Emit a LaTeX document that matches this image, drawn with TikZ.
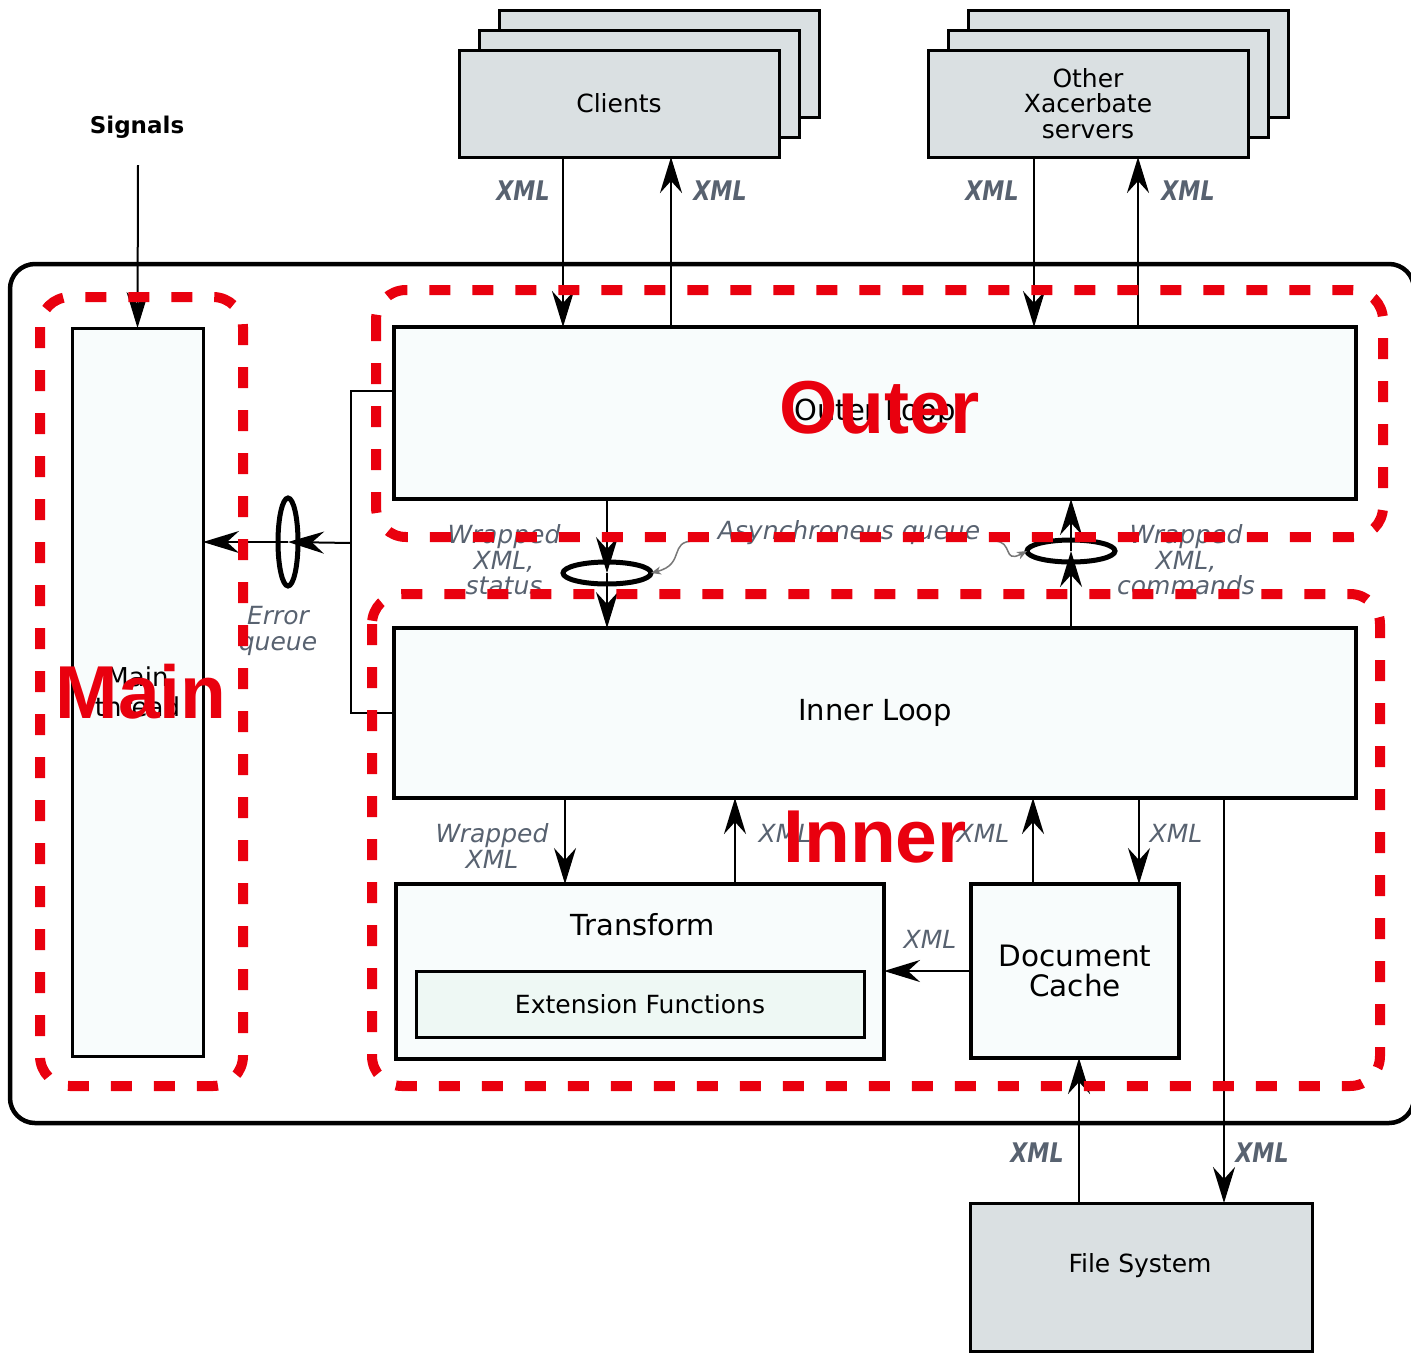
\documentclass[tikz,border=0pt]{standalone}
\usepackage{fontspec}
\setmainfont{DejaVu Sans}[BoldFont={DejaVu Sans Bold},ItalicFont={DejaVu Sans Oblique},BoldItalicFont={DejaVu Sans Bold Oblique}]
\newfontfamily\bigfont{Liberation Sans}[BoldFont={Liberation Sans Bold}]
\usetikzlibrary{arrows.meta,shapes.geometric}
\definecolor{boxgray}{RGB}{218,224,226}
\definecolor{boxlight}{RGB}{248,252,252}
\definecolor{extfill}{RGB}{238,248,244}
\definecolor{lblgray}{RGB}{88,98,112}
\definecolor{bigred}{RGB}{233,0,14}
\definecolor{wiggray}{RGB}{120,120,120}
\newcommand{\xmlb}{\scalebox{0.82}[1]{XML}}
\tikzset{
  base/.style={draw=black, inner sep=0pt, outer sep=0pt, align=center, font=\fontsize{25}{25.5}\selectfont},
  graybox/.style={base, fill=boxgray, line width=3pt, minimum width=320pt, minimum height=107pt},
  lightbox/.style={base, fill=boxlight, line width=3.5pt},
  txt/.style={inner sep=0pt, outer sep=0pt, align=center},
  reddash/.style={draw=bigred, line width=10pt, dash pattern=on 21pt off 22pt, rounded corners=30pt},
  bigtxt/.style={txt, text=bigred, font=\bigfont\bfseries\fontsize{75}{75}\selectfont},
  arr/.style={line width=2pt, -{Stealth[length=36pt,width=22pt,inset=12pt]}},
  arrout/.style={line width=2.8pt, -{Stealth[length=36pt,width=22pt,inset=12pt]}},
  xmlout/.style={txt, text=lblgray, font=\bfseries\itshape\fontsize{27}{28}\selectfont},
  xmlin/.style={txt, text=lblgray, font=\itshape\fontsize{25}{25.5}\selectfont},
  queue/.style={draw=black, ellipse, line width=5pt, inner sep=0pt, outer sep=0pt},
  wig/.style={draw=wiggray, line width=1.5pt, -{Stealth[length=10pt,width=8pt,inset=3pt]}},
}
\begin{document}
\begin{tikzpicture}[x=1pt,y=-1pt]
\useasboundingbox (0,0) rectangle (1411,1353);

% big container
\draw[line width=4.5pt, rounded corners=25pt] (10,264) rectangle (1414,1123);

% client stack
\node[graybox] (cl3) at (659,63.5) {};
\node[graybox] (cl2) at (639,83.5) {};
\node[graybox] (clients) at (619,103.5) {Clients};
% server stack
\node[graybox] (sv3) at (1128,63.5) {};
\node[graybox] (sv2) at (1108,83.5) {};
\node[graybox] (servers) at (1088,103.5) {Other\\Xacerbate\\servers};

% signals
\node[txt, font=\bfseries\fontsize{23}{25}\selectfont] (signals) at (137,127) {Signals};
\coordinate (sig) at (138,165);

% main boxes
\node[lightbox, line width=3pt, minimum width=131pt, minimum height=728pt, font=\fontsize{26}{30}\selectfont] (main) at (137.5,692) {Main\\thread};
\node[lightbox, minimum width=962pt, minimum height=172pt, font=\fontsize{29}{30}\selectfont] (outer) at (875,413) {Outer Loop};
\node[lightbox, minimum width=962pt, minimum height=170pt, font=\fontsize{29}{30}\selectfont] (inner) at (875,713) {Inner Loop};
\node[lightbox, line width=4pt, minimum width=488pt, minimum height=175pt] (transform) at (640,971.5) {};
\node[txt, font=\fontsize{29}{30}\selectfont] (transformlbl) at (643,925) {Transform};
\node[base, fill=extfill, line width=3pt, minimum width=448pt, minimum height=66pt] (ext) at (640,1004) {Extension Functions};
\node[lightbox, line width=4pt, minimum width=208pt, minimum height=174pt, font=\fontsize{29.5}{30}\selectfont] (doc) at (1075,971) {Document\\Cache};
\node[base, fill=boxgray, line width=3pt, minimum width=342pt, minimum height=148pt] (fs) at (1141,1277) {};
\node[txt, font=\fontsize{25}{25.5}\selectfont] (fslbl) at (1140,1266) {File System};

% queues
\node[queue, minimum width=88pt, minimum height=22pt] (q1) at (607,573) {};
\node[queue, minimum width=88pt, minimum height=22pt] (q2) at (1071,551) {};
\node[queue, minimum width=20pt, minimum height=88pt] (eq) at (288,542) {};

% x positions
\coordinate (xc1) at (563,0);
\coordinate (xc2) at (671,0);
\coordinate (xs1) at (1034,0);
\coordinate (xs2) at (1138,0);
\coordinate (xt1) at (565,0);
\coordinate (xt2) at (735,0);
\coordinate (xd1) at (1033,0);
\coordinate (xd2) at (1139,0);
\coordinate (xf1) at (1079,0);
\coordinate (xf2) at (1224,0);
\coordinate (bt) at (351,391);
\coordinate (bb) at (351,713);
\coordinate (eb) at (351,543);

% connectors
\draw[arr] (sig) -- (main.north);
\draw[arrout] (clients.south -| xc1) -- (outer.north -| xc1);
\draw[arrout] (outer.north -| xc2) -- (clients.south -| xc2);
\draw[arrout] (servers.south -| xs1) -- (outer.north -| xs1);
\draw[arrout] (outer.north -| xs2) -- (servers.south -| xs2);

\draw[arr] (outer.south -| q1) -- (q1.center);
\draw[arr] (q1.center) -- (inner.north -| q1);
\draw[arr] (inner.north -| q2) -- (q2.center);
\draw[arr] (q2.center) -- (outer.south -| q2);

\draw[line width=2pt] (outer.west |- bt) -- (bt) -- (bb) -- (inner.west |- bb);
\draw[arr] (eb) -- (eq.center);
\draw[arr] (eq.center) -- (main.east |- eq);

\draw[arr] (inner.south -| xt1) -- (transform.north -| xt1);
\draw[arr] (transform.north -| xt2) -- (inner.south -| xt2);
\draw[arr] (doc.north -| xd1) -- (inner.south -| xd1);
\draw[arr] (inner.south -| xd2) -- (doc.north -| xd2);
\draw[arr] (doc.west) -- (transform.east |- doc.west);
\draw[arrout] (fs.north -| xf1) -- (doc.south -| xf1);
\draw[arrout] (inner.south -| xf2) -- (fs.north -| xf2);

% labels
\node[xmlout] (l1) at (523,191) {\xmlb};
\node[xmlout] (l2) at (720,191) {\xmlb};
\node[xmlout] (l3) at (992,191) {\xmlb};
\node[xmlout] (l4) at (1188,191) {\xmlb};
\node[xmlout] (l5) at (1037,1153) {\xmlb};
\node[xmlout] (l6) at (1262,1153) {\xmlb};
\node[xmlin] (l7) at (785,833) {XML};
\node[xmlin] (l8) at (983,833) {XML};
\node[xmlin] (l9) at (1176,833) {XML};
\node[xmlin] (l10) at (930,939) {XML};
\node[xmlin] (l11) at (492,846) {Wrapped\\XML};
\node[xmlin] (l12) at (504,560) {Wrapped\\XML,\\status};
\node[xmlin] (l13) at (1186,560) {Wrapped\\XML,\\commands};
\node[xmlin] (aq) at (849,533) {Asynchroneus queue};
\node[xmlin] (l14) at (278,631) {Error\\queue};

% wiggly pointers
\coordinate (w1) at (694,541);
\coordinate (w2) at (994,541);
\draw[wig] (w1) .. controls (668,541) and (686,564) .. (q1.east);
\draw[wig] (w2) .. controls (1014,541) and (1002,564) .. (q2.west);

% red dashed regions
\draw[reddash] (40,297) rectangle (243,1086);
\draw[reddash] (376,290) rectangle (1383,537);
\draw[reddash] (372,594) rectangle (1380,1086);

\node[bigtxt] (bigmain) at (141,692) {Main};
\node[bigtxt] (bigouter) at (880,408) {Outer};
\node[bigtxt] (biginner) at (875,837) {Inner};
\end{tikzpicture}
\end{document}
